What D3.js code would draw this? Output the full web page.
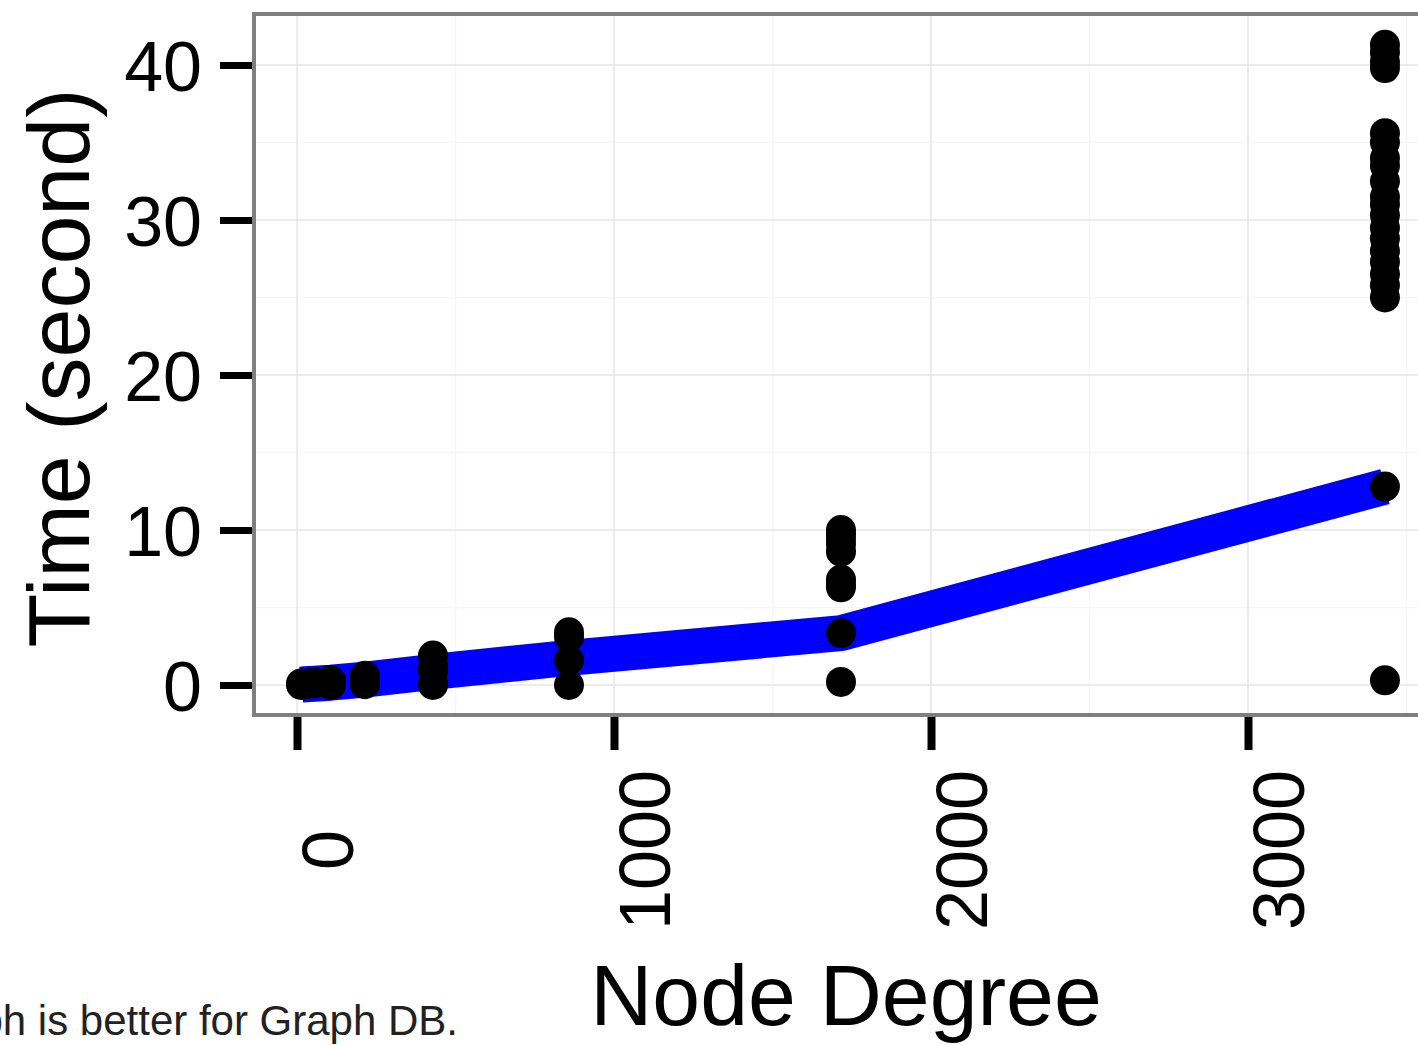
<!DOCTYPE html>
<html>
<head>
<meta charset="utf-8">
<script src="https://cdnjs.cloudflare.com/ajax/libs/d3/7.8.5/d3.min.js"></script>
<style>
    body { margin: 0; background: #fff; }
    svg { display: block; font-family: "Liberation Sans", Arial, Helvetica, sans-serif; }
</style>
</head>
<body>
<div id="chart"></div>
<script>
// node degrees tested (x positions)
var degrees = [13, 27, 54, 107, 214, 429, 858, 1716, 3432];

// measured query times (seconds) for each degree, one list per degree
var times13 = [0.0, 0.05, 0.1];
var times27 = [0.05, 0.1];
var times54 = [0.1, 0.15, 0.2];
var times107 = [0.0, 0.15, 0.3];
var times214 = [0.05, 0.3, 0.6];
var times429 = [0.0, 0.1, 0.9, 1.2, 1.9];
var times858 = [0.0, 1.6, 3.1, 3.4];
var times1716 = [0.2, 3.35, 6.3, 6.5, 6.8, 8.6, 9.1, 9.5, 9.8, 10.0];
var times3432 = [0.3, 12.8, 25.0, 25.8, 26.5, 27.3, 28.0, 28.8, 29.5, 30.3, 31.0, 31.5,
    32.5, 33.5, 34.0, 35.0, 35.6, 39.8, 40.2, 40.8, 41.3];

// the blue trend line, one value per degree
var trend = [0.02, 0.05, 0.08, 0.15, 0.35, 0.85, 1.75, 3.35, 12.8];

var xTicks = [0, 1000, 2000, 3000];
var yTicks = [0, 10, 20, 30, 40];
var xMinor = [500, 1500, 2500, 3500];
var yMinor = [5, 15, 25, 35];

var allTimes = [times13, times27, times54, times107, times214, times429, times858, times1716, times3432];

var points = [];
allTimes.forEach(function (list, i) {
    list.forEach(function (t) { points.push({ deg: degrees[i], time: t }); });
});

var width = 1418,
    height = 1045,
    panel = { left: 254, top: 14, right: 1442, bottom: 715 };

var svg = d3.select("#chart").append("svg")
    .attr("width", width)
    .attr("height", height);

svg.append("rect")
    .attr("width", width)
    .attr("height", height)
    .attr("fill", "#fff");

var x = d3.scaleLinear().domain([0, 3000]).range([297, 1248]);
var y = d3.scaleLinear().domain([0, 40]).range([685, 65]);

// panel background + grid
svg.append("rect")
    .attr("x", panel.left)
    .attr("y", panel.top)
    .attr("width", panel.right - panel.left)
    .attr("height", panel.bottom - panel.top)
    .attr("fill", "#fff");

var grid = svg.append("g");

grid.selectAll(".xminor").data(xMinor).enter().append("line")
    .attr("x1", function (d) { return x(d); })
    .attr("x2", function (d) { return x(d); })
    .attr("y1", panel.top).attr("y2", panel.bottom)
    .attr("stroke", "#f6f6f6").attr("stroke-width", 1.5);

grid.selectAll(".yminor").data(yMinor).enter().append("line")
    .attr("y1", function (d) { return y(d); })
    .attr("y2", function (d) { return y(d); })
    .attr("x1", panel.left).attr("x2", panel.right)
    .attr("stroke", "#f6f6f6").attr("stroke-width", 1.5);

grid.selectAll(".xmajor").data(xTicks).enter().append("line")
    .attr("x1", function (d) { return x(d); })
    .attr("x2", function (d) { return x(d); })
    .attr("y1", panel.top).attr("y2", panel.bottom)
    .attr("stroke", "#e6e6e6").attr("stroke-width", 1.5);

grid.selectAll(".ymajor").data(yTicks).enter().append("line")
    .attr("y1", function (d) { return y(d); })
    .attr("y2", function (d) { return y(d); })
    .attr("x1", panel.left).attr("x2", panel.right)
    .attr("stroke", "#e6e6e6").attr("stroke-width", 1.5);

// trend line
var line = d3.line()
    .x(function (d, i) { return x(degrees[i]); })
    .y(function (d) { return y(d); });

svg.append("path")
    .datum(trend)
    .attr("d", line)
    .attr("fill", "none")
    .attr("stroke", "#0000ff")
    .attr("stroke-width", 36)
    .attr("stroke-linejoin", "round");

// points
svg.append("g").selectAll("circle")
    .data(points)
    .enter().append("circle")
    .attr("cx", function (d) { return x(d.deg); })
    .attr("cy", function (d) { return y(d.time); })
    .attr("r", 15)
    .attr("fill", "#000");

// panel border
svg.append("rect")
    .attr("x", panel.left)
    .attr("y", panel.top)
    .attr("width", panel.right - panel.left)
    .attr("height", panel.bottom - panel.top)
    .attr("fill", "none")
    .attr("stroke", "#7f7f7f")
    .attr("stroke-width", 4);

// y axis
var yAxis = d3.axisLeft(y).tickValues(yTicks).tickSize(32).tickPadding(18)
    .tickFormat(d3.format("d"));
var yg = svg.append("g")
    .attr("transform", "translate(" + (panel.left - 2) + ",0)")
    .call(yAxis);
yg.select(".domain").remove();
yg.selectAll(".tick line").attr("stroke", "#000").attr("stroke-width", 7);
yg.selectAll(".tick text")
    .attr("fill", "#000")
    .style("font-size", "70px")
    .attr("dy", "0.36em");

// x axis, labels turned sideways
var xAxis = d3.axisBottom(x).tickValues(xTicks).tickSize(33).tickPadding(0)
    .tickFormat(d3.format("d"));
var xg = svg.append("g")
    .attr("transform", "translate(0," + (panel.bottom + 2) + ")")
    .call(xAxis);
xg.select(".domain").remove();
xg.selectAll(".tick line").attr("stroke", "#000").attr("stroke-width", 8);
xg.selectAll(".tick text")
    .attr("fill", "#000")
    .style("font-size", "72px")
    .attr("text-anchor", "middle")
    .attr("y", 0)
    .attr("dy", 0)
    .attr("transform", "translate(55,133) rotate(-90)");

// axis titles
svg.append("text")
    .attr("x", 846)
    .attr("y", 1025)
    .attr("text-anchor", "middle")
    .style("font-size", "86px")
    .attr("fill", "#000")
    .text("Node Degree");

svg.append("text")
    .attr("transform", "translate(89,368) rotate(-90)")
    .attr("text-anchor", "middle")
    .style("font-size", "88px")
    .attr("fill", "#000")
    .text("Time (second)");

// caption fragment, cut off at the bottom left as in the source
svg.append("text")
    .attr("x", 458)
    .attr("y", 1035)
    .attr("text-anchor", "end")
    .style("font-size", "42px")
    .attr("fill", "#222")
    .text("ph is better for Graph DB.");
</script>
</body>
</html>
